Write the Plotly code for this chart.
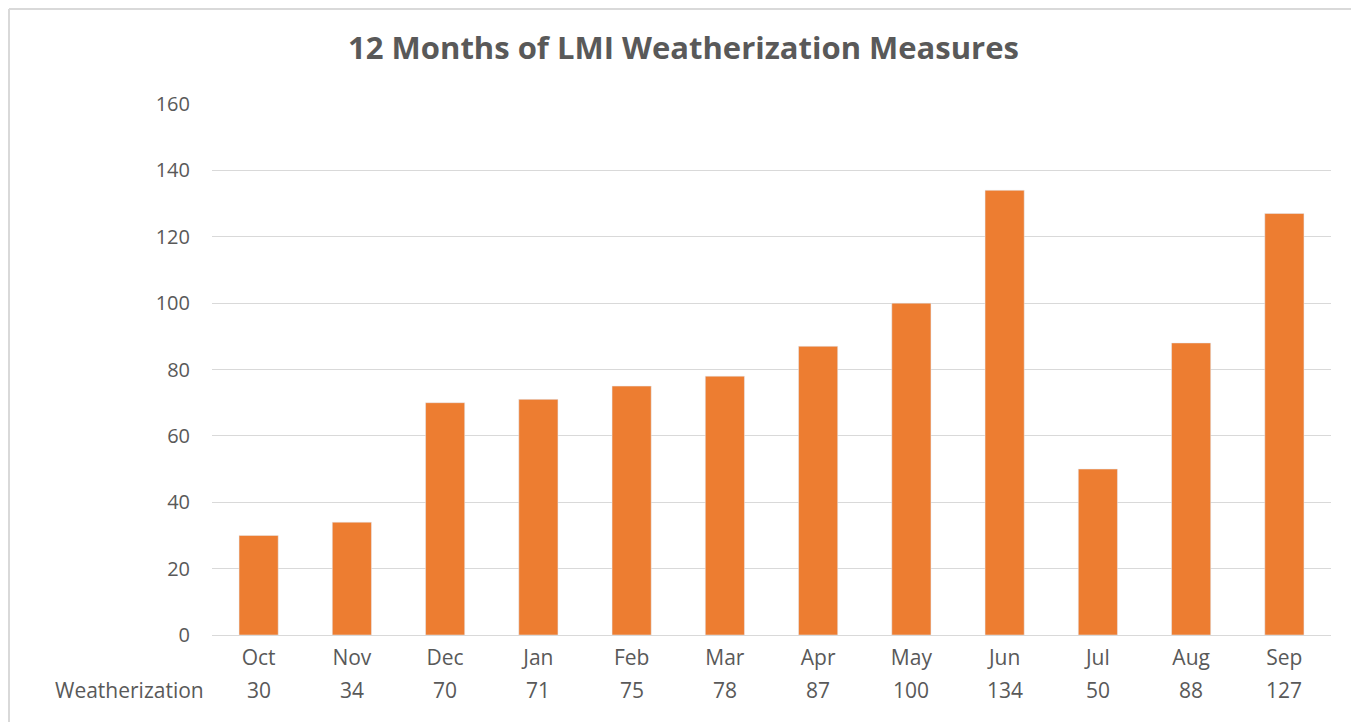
import plotly.graph_objects as go

# dane z wykresu
months = ["Oct", "Nov", "Dec", "Jan", "Feb", "Mar", "Apr", "May", "Jun", "Jul", "Aug", "Sep"]
weatherization = [30, 34, 70, 71, 75, 78, 87, 100, 134, 50, 88, 127]
y_ticks = [0, 20, 40, 60, 80, 100, 120, 140, 160]

# strona ma margines 8px, wiec figura jest przesunieta
OFF = 8
W, H = 1359 - OFF, 722 - OFF
L, R, T, B = 212 - OFF, 28, 104 - OFF, 87
font = "Open Sans"
grey = "#595959"

fig = go.Figure(go.Bar(
    x=months, y=weatherization,
    marker_color="#ED7D31",
    name="Weatherization",
))

# wiersz tabeli danych pod osia
pw, ph = W - L - R, H - T - B
row_y = -(690 - 635) / ph
for m, v in zip(months, weatherization):
    fig.add_annotation(x=m, y=row_y, xref="x", yref="paper", text=str(v),
                       yanchor="middle", showarrow=False,
                       font=dict(family=font, size=21, color=grey))
fig.add_annotation(x=-(212 - 206) / pw, y=row_y, xref="paper", yref="paper",
                   text="Weatherization", xanchor="right", yanchor="middle",
                   showarrow=False, font=dict(family=font, size=21, color=grey))

# ramka wykresu - tylko gora i lewa strona widoczne
x_left = -L / pw + 1 / pw
y_top = 1 + (T - 1) / ph
fig.add_shape(type="line", xref="paper", yref="paper",
              x0=x_left, x1=(W - L) / pw, y0=y_top, y1=y_top,
              line=dict(color="#d9d9d9", width=2))
fig.add_shape(type="line", xref="paper", yref="paper",
              x0=x_left, x1=x_left, y0=-B / ph, y1=y_top,
              line=dict(color="#d9d9d9", width=2))

fig.update_layout(
    title=dict(text="<b>12 Months of LMI Weatherization Measures</b>",
               x=0.5, xref="container", y=1 - (48 - OFF) / H, yanchor="middle",
               font=dict(family=font, size=31, color=grey)),
    width=W, height=H,
    margin=dict(l=L, r=R, t=T, b=B),
    plot_bgcolor="white", paper_bgcolor="white",
    bargap=0.58,
    showlegend=False,
    xaxis=dict(showline=True, linecolor="#d9d9d9", linewidth=1, ticks="",
               ticklabelstandoff=4,
               tickfont=dict(family=font, size=21, color=grey)),
    yaxis=dict(range=[0, 160], tickvals=y_ticks, showgrid=True,
               gridcolor="#d9d9d9", gridwidth=1, zeroline=False, ticks="",
               ticklabelstandoff=21,
               tickfont=dict(family=font, size=20, color=grey)),
)

fig.write_html("out.html")
